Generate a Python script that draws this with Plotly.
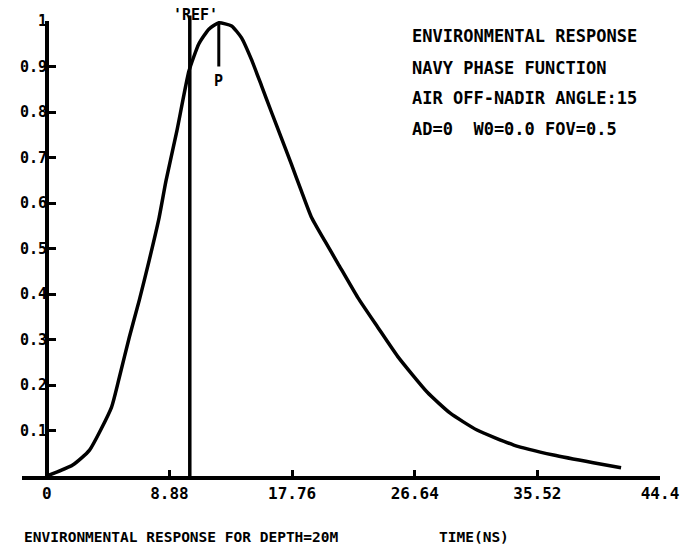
import plotly.graph_objects as go

# ---- data ----
time_ns = [0.0, 1.87, 3.09, 4.68, 5.25, 5.97, 6.69, 7.41, 8.13, 8.63, 9.42, 10.29,
           11.01, 11.73, 12.45, 13.38, 14.10, 14.82, 15.54, 16.26, 16.98, 17.70,
           18.42, 19.14, 20.14, 21.08, 22.52, 23.96, 25.40, 27.55, 29.21, 31.15,
           33.81, 36.69, 39.57, 41.58]
response = [0.0, 0.024, 0.057, 0.151, 0.217, 0.305, 0.386, 0.474, 0.568, 0.649,
            0.759, 0.890, 0.950, 0.982, 0.996, 0.989, 0.963, 0.915, 0.858, 0.800,
            0.743, 0.686, 0.627, 0.570, 0.516, 0.467, 0.392, 0.327, 0.263, 0.184,
            0.138, 0.101, 0.068, 0.046, 0.029, 0.018]

x_tickvals = [0, 8.88, 17.76, 26.64, 35.52, 44.4]
x_ticktext = ["0", "8.88", "17.76", "26.64", "35.52", "44.4"]
y_tickvals = [0.1, 0.2, 0.3, 0.4, 0.5, 0.6, 0.7, 0.8, 0.9, 1.0]
y_ticktext = ["0.1", "0.2", "0.3", "0.4", "0.5", "0.6", "0.7", "0.8", "0.9", "1"]

ref_time = 10.35
peak_time = 12.45
peak_value = 0.996
peak_marker_bottom = 0.90

info_lines = ["ENVIRONMENTAL RESPONSE", "NAVY PHASE FUNCTION",
              "AIR OFF-NADIR ANGLE:15", "AD=0  W0=0.0 FOV=0.5"]
bottom_left = "ENVIRONMENTAL RESPONSE FOR DEPTH=20M"
bottom_right = "TIME(NS)"

FONT = "DejaVu Sans Mono"

fig = go.Figure()
fig.add_trace(go.Scatter(x=time_ns, y=response, mode="lines",
                         line=dict(color="black", width=3.5, shape="spline", smoothing=0.5),
                         showlegend=False, hoverinfo="skip"))
# peak marker P
fig.add_trace(go.Scatter(x=[peak_time, peak_time], y=[peak_marker_bottom, peak_value],
                         mode="lines", line=dict(color="black", width=3),
                         showlegend=False, hoverinfo="skip"))

# REF vertical line (extends slightly above the plot top)
fig.add_shape(type="line", xref="x", yref="paper", x0=ref_time, x1=ref_time,
              y0=0, y1=1.012, line=dict(color="black", width=3.5))

x_left = -1.8
x_right = 44.4
ypos = (0 - x_left) / (x_right - x_left)

fig.update_layout(
    width=691, height=550,
    margin=dict(l=22, r=27, t=20, b=74),
    paper_bgcolor="white", plot_bgcolor="white",
    xaxis=dict(range=[x_left, x_right], showgrid=False, zeroline=False,
               showline=True, linecolor="black", linewidth=3.5,
               tickmode="array", tickvals=x_tickvals, ticktext=x_ticktext,
               ticks="inside", ticklen=6, tickwidth=2.5, tickcolor="black",
               tickfont=dict(family=FONT, size=16, color="black", weight="bold")),
    yaxis=dict(range=[0, 1.0], showgrid=False, zeroline=False,
               anchor="free", position=ypos,
               showline=True, linecolor="black", linewidth=3.5,
               tickmode="array", tickvals=y_tickvals, ticktext=y_ticktext,
               ticks="inside", ticklen=7, tickwidth=2.5, tickcolor="black",
               ticklabelstandoff=-5,
               tickfont=dict(family=FONT, size=15, color="black", weight="bold")),
)

bold = dict(family=FONT, color="black", weight="bold")

info_y = [0.967, 0.897, 0.831, 0.763]
for txt, yy in zip(info_lines, info_y):
    fig.add_annotation(text=txt, xref="paper", yref="paper", x=0.6075, y=yy,
                       xanchor="left", yanchor="middle", showarrow=False,
                       font=dict(size=17, **bold))

fig.add_annotation(text=bottom_left, xref="paper", yref="paper", x=0.0, y=-0.134,
                   xanchor="left", yanchor="middle", showarrow=False,
                   font=dict(size=14.5, **bold))
fig.add_annotation(text=bottom_right, xref="paper", yref="paper", x=0.651, y=-0.134,
                   xanchor="left", yanchor="middle", showarrow=False,
                   font=dict(size=14.5, **bold))

fig.add_annotation(text="'REF'", xref="x", yref="paper", x=ref_time + 0.4, y=1.013,
                   xanchor="center", yanchor="middle", showarrow=False,
                   font=dict(size=15, **bold))
fig.add_annotation(text="P", xref="x", yref="y", x=peak_time, y=0.868,
                   xanchor="center", yanchor="middle", showarrow=False,
                   font=dict(size=15, **bold))

fig.write_html("out.html")
